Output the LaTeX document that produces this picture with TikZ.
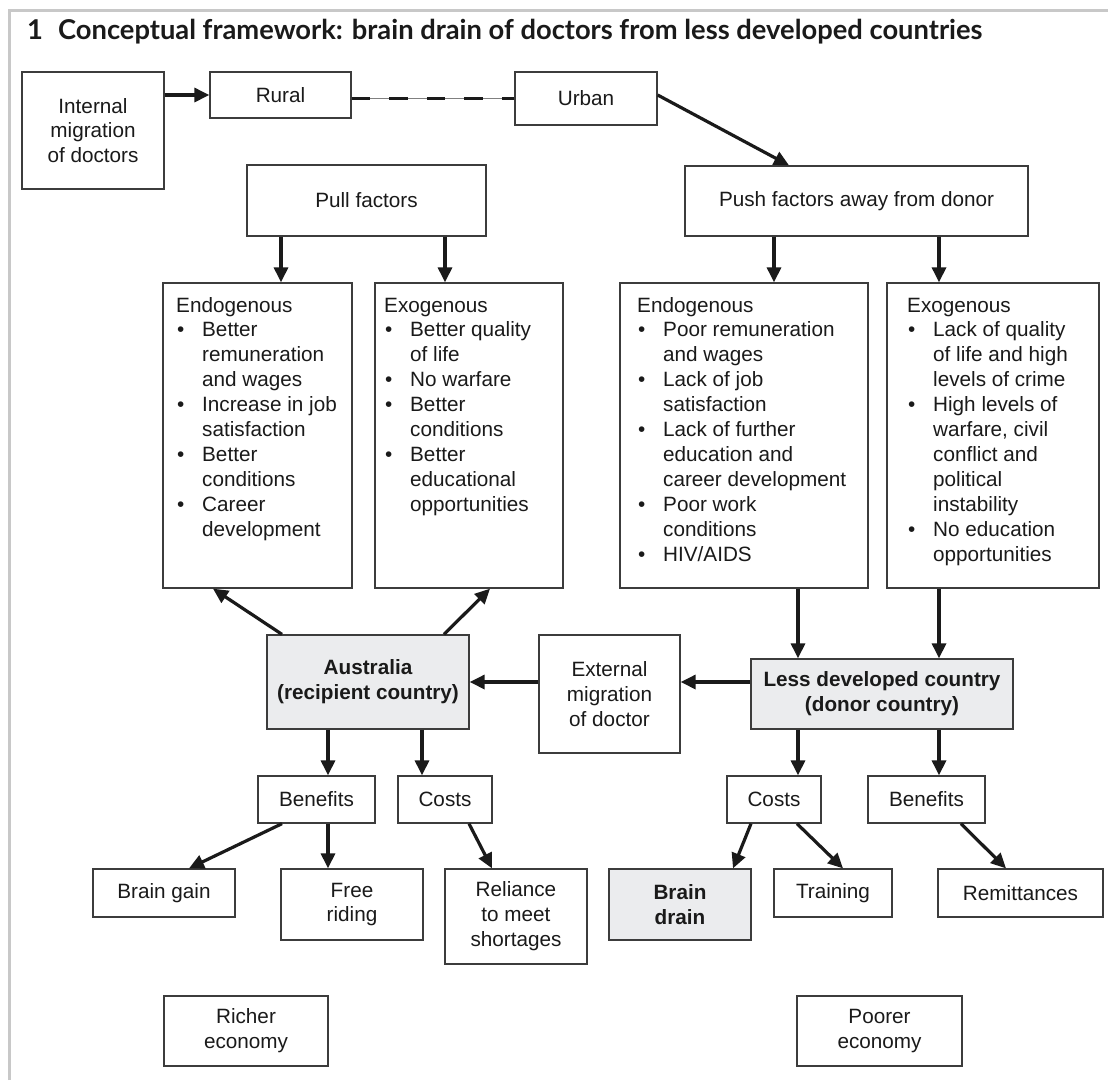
\documentclass[tikz,border=0pt]{standalone}
\usepackage{fontspec}
\setmainfont{Liberation Sans}
\newfontfamily\titlefont{Lato}
\usetikzlibrary{arrows.meta}
\definecolor{boxgray}{HTML}{EBECEE}
\definecolor{framegray}{HTML}{C8C8C8}
\definecolor{ink}{HTML}{1A1A1A}
\newcommand\bl{\makebox[26pt][l]{\hspace{1pt}\textbullet}}
\newcommand\ind{\hspace*{26pt}}
\tikzset{
  box/.style={draw=ink!85, line width=1.3pt, rectangle, inner sep=0pt, align=center, text=ink, font=\fontsize{20.7}{24.9}\selectfont},
  shaded/.style={box, fill=boxgray, font=\fontsize{20.7}{24.9}\selectfont\bfseries},
  listtxt/.style={inner sep=0pt, anchor=base west, text=ink, font=\fontsize{20.7}{24.9}\selectfont},
  arr/.style={line width=3.2pt, draw=ink, -{Triangle[length=15pt,width=14pt]}},
}
\begin{document}
\begin{tikzpicture}[x=1pt,y=-1pt]
\useasboundingbox (0,0) rectangle (1108,1080);
\fill[white] (0,0) rectangle (1108,1080);
\draw[framegray, line width=3pt] (9,1080) -- (9,10) -- (1108,10);

\node[anchor=base west, inner sep=0pt, text=ink] (title) at (27,39)
  {\resizebox{955pt}{!}{\titlefont\bfseries 1\hspace{0.55em}Conceptual framework: brain drain of doctors from less developed countries}};

% x positions for connectors
\foreach \xx in {189,213,281,282,328,422,444,445,469,490,492,733,751,774,789,797,798,843,939,961,1006}
  \coordinate (x\xx) at (\xx,0);

% top row
\node[box, minimum width=142pt, minimum height=117pt] (intmig) at (93,130.5) {Internal\\migration\\of doctors};
\node[box, minimum width=141pt, minimum height=46pt] (rural) at (280.5,95) {Rural};
\node[box, minimum width=142pt, minimum height=53pt] (urban) at (586,98.5) {Urban};

% factors
\node[box, minimum width=239pt, minimum height=71pt] (pull) at (366.5,200.5) {Pull factors};
\node[box, minimum width=343pt, minimum height=70pt] (push) at (856.5,201) {Push factors away from donor};

% list boxes
\node[box, minimum width=189pt, minimum height=305pt] (endopull) at (257.5,435.5) {};
\node[box, minimum width=188pt, minimum height=305pt] (exopull) at (469,435.5) {};
\node[box, minimum width=248pt, minimum height=305pt] (endopush) at (744,435.5) {};
\node[box, minimum width=212pt, minimum height=305pt] (exopush) at (993,435.5) {};

\node[listtxt] (endopullT) at (176,312) {\begin{tabular}[t]{@{}l@{}}
Endogenous\\
\bl Better\\
\ind remuneration\\
\ind and wages\\
\bl Increase in job\\
\ind satisfaction\\
\bl Better\\
\ind conditions\\
\bl Career\\
\ind development
\end{tabular}};
\node[listtxt] (exopullT) at (384,312) {\begin{tabular}[t]{@{}l@{}}
Exogenous\\
\bl Better quality\\
\ind of life\\
\bl No warfare\\
\bl Better\\
\ind conditions\\
\bl Better\\
\ind educational\\
\ind opportunities
\end{tabular}};
\node[listtxt] (endopushT) at (637,312) {\begin{tabular}[t]{@{}l@{}}
Endogenous\\
\bl Poor remuneration\\
\ind and wages\\
\bl Lack of job\\
\ind satisfaction\\
\bl Lack of further\\
\ind education and\\
\ind career development\\
\bl Poor work\\
\ind conditions\\
\bl HIV/AIDS
\end{tabular}};
\node[listtxt] (exopushT) at (907,312) {\begin{tabular}[t]{@{}l@{}}
Exogenous\\
\bl Lack of quality\\
\ind of life and high\\
\ind levels of crime\\
\bl High levels of\\
\ind warfare, civil\\
\ind conflict and\\
\ind political\\
\ind instability\\
\bl No education\\
\ind opportunities
\end{tabular}};

% countries
\node[shaded, minimum width=202pt, minimum height=94pt] (aus) at (368,682) {Australia\\(recipient country)};
\node[box, minimum width=141pt, minimum height=118pt] (extmig) at (609.5,694) {External\\migration\\of doctor};
\node[shaded, minimum width=262pt, minimum height=70pt] (ldc) at (882,694) {Less developed country\\(donor country)};

% benefits / costs
\node[box, minimum width=117pt, minimum height=47pt] (benL) at (316.5,799.5) {Benefits};
\node[box, minimum width=94pt, minimum height=47pt] (costL) at (445,799.5) {Costs};
\node[box, minimum width=94pt, minimum height=47pt] (costR) at (774,799.5) {Costs};
\node[box, minimum width=117pt, minimum height=47pt] (benR) at (926.5,799.5) {Benefits};

% outcomes
\node[box, minimum width=142pt, minimum height=48pt] (braingain) at (164,893) {Brain gain};
\node[box, minimum width=142pt, minimum height=71pt] (freeriding) at (352,904.5) {Free\\riding};
\node[box, minimum width=142pt, minimum height=95pt] (reliance) at (516,916.5) {Reliance\\to meet\\shortages};
\node[shaded, minimum width=142pt, minimum height=71pt] (braindrain) at (680,904.5) {Brain\\drain};
\node[box, minimum width=118pt, minimum height=48pt] (training) at (833,893) {Training};
\node[box, minimum width=165pt, minimum height=48pt] (remit) at (1020.5,893) {Remittances};

% economies
\node[box, minimum width=164pt, minimum height=70pt] (richer) at (246,1031) {Richer\\economy};
\node[box, minimum width=165pt, minimum height=70pt] (poorer) at (879.5,1031) {Poorer\\economy};

% connectors
\draw[arr] (intmig.east |- rural.west) -- (rural.west);
\draw[gray, line width=0.9pt] (rural.east |- urban.west) -- (urban.west);
\draw[ink, line width=2.6pt, dash pattern=on 18.6pt off 19pt] (rural.east |- urban.west) -- (urban.west);
\draw[arr] ([yshift=3.5pt]urban.east) -- (push.north -| x789);

\draw[arr] (pull.south -| x281) -- (endopull.north -| x281);
\draw[arr] (pull.south -| x445) -- (exopull.north -| x445);
\draw[arr] (push.south -| x774) -- (endopush.north -| x774);
\draw[arr] (push.south -| x939) -- (exopush.north -| x939);

\draw[arr] (endopush.south -| x798) -- (ldc.north -| x798);
\draw[arr] (exopush.south -| x939) -- (ldc.north -| x939);
\draw[arr] (aus.north -| x282) -- (endopull.south -| x213);
\draw[arr] (aus.north -| x444) -- (exopull.south -| x490);

\draw[arr] (ldc.west |- aus.east) -- (extmig.east |- aus.east);
\draw[arr] (extmig.west |- aus.east) -- (aus.east);

\draw[arr] (aus.south -| x328) -- (benL.north -| x328);
\draw[arr] (aus.south -| x422) -- (costL.north -| x422);
\draw[arr] (ldc.south -| x798) -- (costR.north -| x798);
\draw[arr] (ldc.south -| x939) -- (benR.north -| x939);

\draw[arr] (benL.south -| x282) -- (braingain.north -| x189);
\draw[arr] (benL.south -| x328) -- (freeriding.north -| x328);
\draw[arr] (costL.south -| x469) -- (reliance.north -| x492);
\draw[arr] (costR.south -| x751) -- (braindrain.north -| x733);
\draw[arr] (costR.south -| x797) -- (training.north -| x843);
\draw[arr] (benR.south -| x961) -- (remit.north -| x1006);
\end{tikzpicture}
\end{document}
